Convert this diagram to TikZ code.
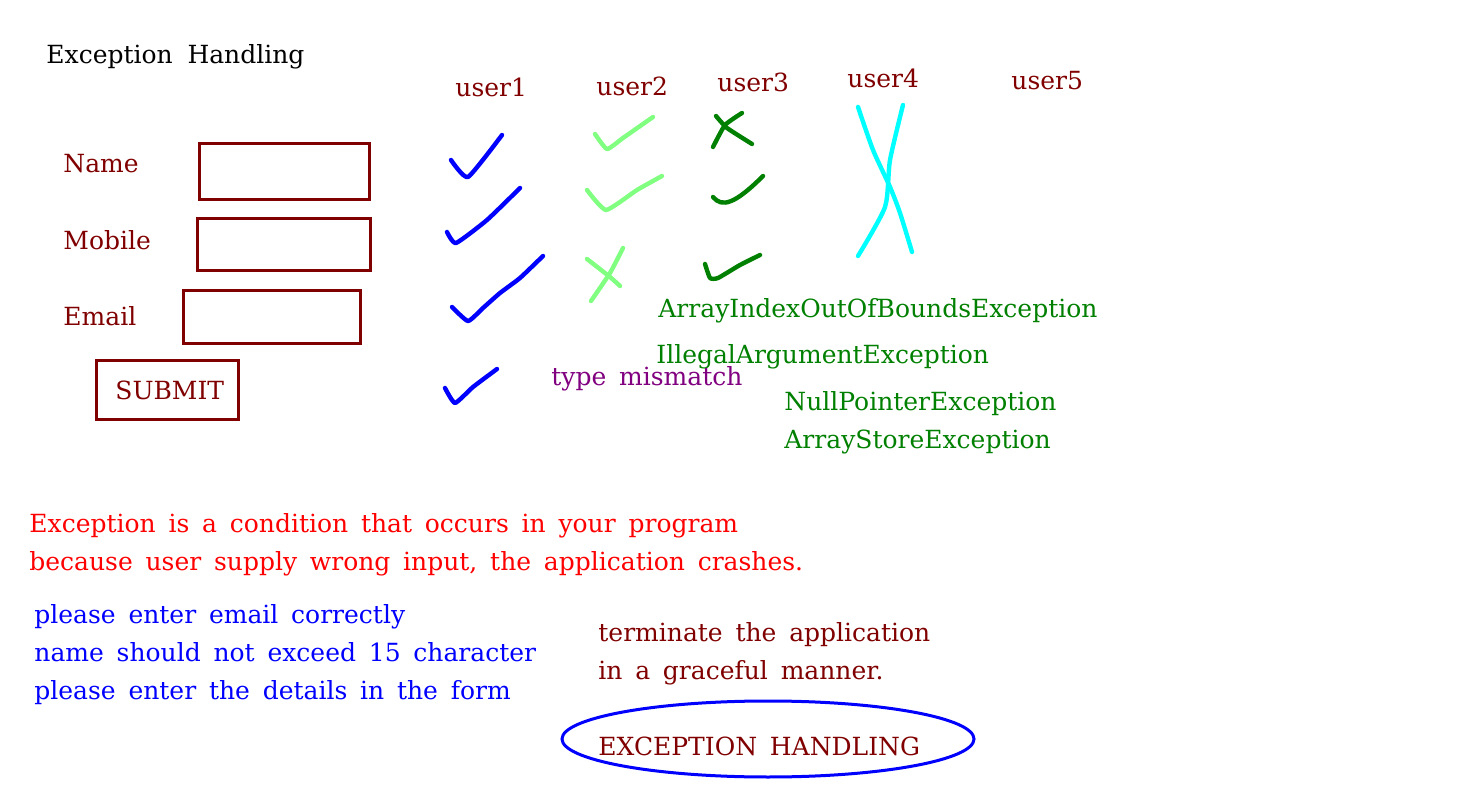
\documentclass[tikz,border=0pt]{standalone}
\usepackage{fontspec}
\setmainfont{DejaVu Serif}
\usetikzlibrary{shapes.geometric}
\definecolor{darkred}{RGB}{128,0,0}
\definecolor{darkgreen}{RGB}{0,128,0}
\definecolor{lightgreen}{RGB}{128,255,128}
\definecolor{purp}{RGB}{128,0,128}
\definecolor{aqua}{RGB}{0,255,255}
\newcommand{\handfont}{\fontsize{12.5}{15}\selectfont\spaceskip=6.4pt plus 0pt minus 0pt\relax}

\begin{document}
\begin{tikzpicture}[
    x=0.5pt, y=-0.5pt,
    txt/.style={anchor=base west, inner sep=0pt, font=\handfont, text=#1},
    txt/.default={darkred},
    field/.style={draw=darkred, line width=1.5pt},
    tick/.style={draw=#1, line width=2.2pt, line cap=round, line join=round}
]
\useasboundingbox (0,0) rectangle (1481,795);

% Title
\node[txt=black] (title) at (46,64) {Exception\hspace{1pt} Handling};

% Form labels
\node[txt] (name) at (63,173) {Name};
\node[txt] (mobile) at (63,250) {Mobile};
\node[txt] (email) at (63,326) {Email};

% Form fields
\draw[field] (199,144) rectangle (369,200);
\draw[field] (197,219) rectangle (370,271);
\draw[field] (183,291) rectangle (360,344);
\draw[field] (96,361) rectangle (238,420);
\node[txt] (submit) at (115,400) {SUBMIT};

% Users
\node[txt] (u1) at (455,97) {user1};
\node[txt] (u2) at (596,96) {user2};
\node[txt] (u3) at (717,92) {user3};
\node[txt] (u4) at (847,88) {user4};
\node[txt] (u5) at (1011,90) {user5};

% user1 marks
\draw[tick=blue] plot[smooth, tension=0.3] coordinates {(451,160) (468,177) (502,135)};
\draw[tick=blue] plot[smooth, tension=0.3] coordinates {(447,232) (456,243) (487,220) (520,188)};
\draw[tick=blue] plot[smooth, tension=0.3] coordinates {(452,307) (468,321) (483,308) (500,293) (520,278) (543,256)};
\draw[tick=blue] plot[smooth, tension=0.3] coordinates {(445,388) (455,403) (473,387) (497,369)};

% user2 marks
\draw[tick=lightgreen] plot[smooth, tension=0.3] coordinates {(595,134) (607,149) (623,138) (653,117)};
\draw[tick=lightgreen] plot[smooth, tension=0.3] coordinates {(587,190) (606,210) (637,190) (662,176)};
\draw[tick=lightgreen] plot[smooth, tension=0.3] coordinates {(587,259) (610,277) (620,286)};
\draw[tick=lightgreen] plot[smooth, tension=0.3] coordinates {(623,248) (610,273) (591,301)};

% user3 marks
\draw[tick=darkgreen] plot[smooth, tension=0.3] coordinates {(716,116) (727,128) (752,144)};
\draw[tick=darkgreen] plot[smooth, tension=0.3] coordinates {(742,113) (725,125) (713,147)};
\draw[tick=darkgreen] (713,197) .. controls (722,208) and (735,204) .. (763,176);
\draw[tick=darkgreen] plot[smooth, tension=0.3] coordinates {(705,264) (710,278) (718,278) (740,265) (760,255)};

% user4 mark
\draw[tick=aqua] plot[smooth, tension=0.4] coordinates {(858,107) (873,150) (890,187) (900,213) (912,252)};
\draw[tick=aqua] plot[smooth, tension=0.4] coordinates {(903,105) (890,160) (885,207) (858,256)};

% Exceptions
\node[txt=darkgreen] (aioobe) at (658,318) {ArrayIndexOutOfBoundsException};
\node[txt=darkgreen] (iae) at (656,364) {IllegalArgumentException};
\node[txt=purp] (mismatch) at (551,386) {type mismatch};
\node[txt=darkgreen] (npe) at (784,411) {NullPointerException};
\node[txt=darkgreen] (ase) at (784,449) {ArrayStoreException};

% Definition
\node[txt=red] (def1) at (29,532) {Exception is a condition that occurs in your program};
\node[txt=red] (def2) at (29,570) {because user supply wrong input, the application crashes.};

% Messages
\node[txt=blue] (msg1) at (34,623) {please enter email correctly};
\node[txt=blue] (msg2) at (34,661) {name should not exceed 15 character};
\node[txt=blue] (msg3) at (34,699) {please enter the details in the form};

% Graceful termination
\node[txt] (term1) at (598,641) {terminate the application};
\node[txt] (term2) at (598,679) {in a graceful manner.};
\draw[blue, line width=1.5pt] (768,739) ellipse [x radius=206, y radius=38];
\node[txt] (eh) at (598,755) {EXCEPTION HANDLING};

\end{tikzpicture}
\end{document}
